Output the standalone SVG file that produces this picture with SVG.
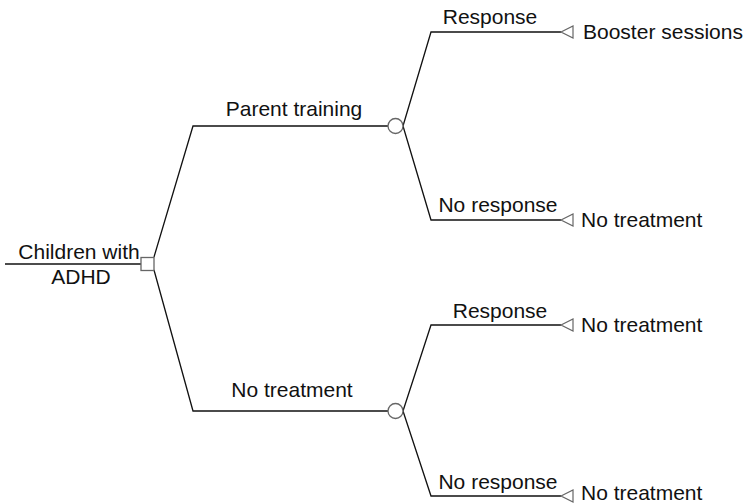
<svg xmlns="http://www.w3.org/2000/svg" width="747" height="504" viewBox="0 0 747 504">
<style>
text{font-family:"Liberation Sans",Arial,Helvetica,sans-serif;font-size:21px;fill:#111}
.m{text-anchor:middle}
.ln{fill:none;stroke:#111;stroke-width:1.3}
.nd{fill:#fff;stroke:#666;stroke-width:1.3}
</style>
<defs>
<polygon id="tri" points="0,0 12,-6 12,6" fill="#fff" stroke="#666" stroke-width="1.2"/>
</defs>
<g id="connectors">
<path class="ln" d="M5,264H141"/>
<path class="ln" d="M154,257L193,126H388"/>
<path class="ln" d="M154,270L193,411H388"/>
<path class="ln" d="M403,126L431,32H561"/>
<path class="ln" d="M403,126L431,220H561"/>
<path class="ln" d="M403,411L431,325H561"/>
<path class="ln" d="M403,411L431,496H561"/>
</g>
<g id="root">
<rect class="nd" x="141" y="257.5" width="13" height="13"/>
<text class="m" x="79" y="259">Children with</text>
<text class="m" x="81" y="284">ADHD</text>
</g>
<g id="chance-parent">
<circle class="nd" cx="395.5" cy="126" r="7.5"/>
<text class="m" x="294" y="116">Parent training</text>
</g>
<g id="chance-none">
<circle class="nd" cx="395.5" cy="411" r="7.5"/>
<text class="m" x="292" y="397">No treatment</text>
</g>
<g id="end-1">
<use href="#tri" x="561" y="32"/>
<text class="m" x="490" y="24">Response</text>
<text x="583" y="39">Booster sessions</text>
</g>
<g id="end-2">
<use href="#tri" x="561" y="220"/>
<text class="m" x="498" y="212">No response</text>
<text x="581" y="227">No treatment</text>
</g>
<g id="end-3">
<use href="#tri" x="561" y="325"/>
<text class="m" x="500" y="318">Response</text>
<text x="581" y="332">No treatment</text>
</g>
<g id="end-4">
<use href="#tri" x="561" y="496"/>
<text class="m" x="498" y="489">No response</text>
<text x="581" y="500">No treatment</text>
</g>
</svg>
